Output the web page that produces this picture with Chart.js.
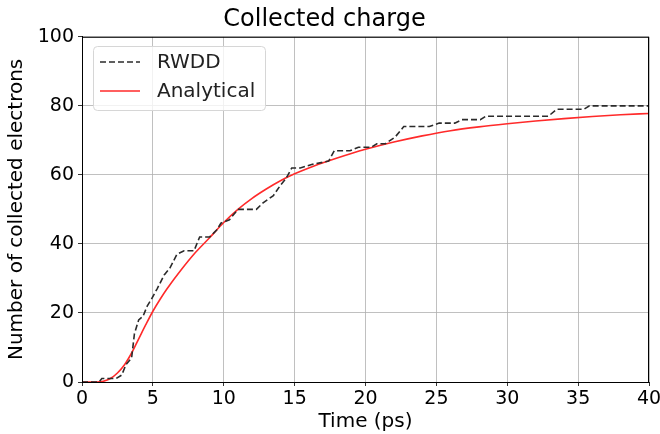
<!DOCTYPE html>
<html>
<head>
<meta charset="utf-8">
<script src="https://cdn.jsdelivr.net/npm/chart.js@4/dist/chart.umd.min.js"></script>
<style>
  html, body { margin: 0; padding: 0; background: #fff; }
  #chart { display: block; }
</style>
</head>
<body>
<canvas id="chart" width="660" height="434"></canvas>
<script>
// RWDD (random walk) – collected electrons vs time
const rwddTime = [0, 1.2, 1.4, 2.4, 2.8, 3.1, 3.5, 3.7, 4.0, 4.3, 4.6, 4.9, 5.3, 5.8, 6.2, 6.7, 7.2, 7.9, 8.3, 9.0, 9.5, 9.8, 10.4, 11.0, 12.3, 12.8, 13.5, 14.0, 14.4, 14.8, 15.4, 16.2, 17.4, 17.8, 18.9, 19.5, 20.4, 20.8, 21.4, 22.1, 22.7, 24.5, 25.2, 26.3, 26.8, 28.1, 28.5, 32.9, 33.5, 35.4, 35.8, 40];
const rwddCount = [0, 0, 1, 1, 2, 5, 7, 14, 18, 19, 22, 24, 27, 31, 33, 37, 38, 38, 42, 42, 44, 46, 47, 50, 50, 52, 54, 57, 59, 62, 62, 63, 64, 67, 67, 68, 68, 69, 69, 71, 74, 74, 75, 75, 76, 76, 77, 77, 79, 79, 80, 80];

// Analytical curve
const anaTime = [0, 1, 1.5, 2, 2.5, 3, 3.5, 4, 4.5, 5, 5.5, 6, 7, 8, 9, 10, 11, 12, 13, 14, 15, 16, 17, 18, 19, 20, 22, 24, 26, 28, 30, 32, 34, 36, 38, 40];
const anaCount = [0, 0, 0.2, 1.0, 2.6, 5.0, 8.4, 12.5, 16.6, 20.5, 23.9, 27.0, 32.5, 37.5, 41.8, 46.2, 50.0, 53.2, 55.9, 58.3, 60.3, 62.0, 63.5, 64.9, 66.2, 67.4, 69.5, 71.3, 72.8, 73.9, 74.8, 75.6, 76.3, 76.9, 77.4, 77.8];

const xTicks = [0, 5, 10, 15, 20, 25, 30, 35, 40];
const yTicks = [0, 20, 40, 60, 80, 100];

const FONT = "'DejaVu Sans', sans-serif";

function toPoints(xs, ys) {
    return xs.map((x, i) => ({ x: x, y: ys[i] }));
}

// frame on all four sides + matplotlib-like legend inside the axes
const framePlugin = {
    id: "frame",
    afterDraw(chart) {
        const ctx = chart.ctx;
        const a = chart.chartArea;
        ctx.save();
        ctx.strokeStyle = "#000";
        ctx.lineWidth = 1;
        ctx.strokeRect(a.left + 0.5, a.top + 0.5, a.right - a.left - 1, a.bottom - a.top);

        // legend box
        const bx = 93, by = 46, bw = 172, bh = 64;
        ctx.fillStyle = "rgba(255,255,255,0.8)";
        ctx.strokeStyle = "#d6d6d6";
        ctx.lineWidth = 1;
        ctx.beginPath();
        ctx.roundRect(bx + 0.5, by + 0.5, bw, bh, 4);
        ctx.fill();
        ctx.stroke();

        ctx.font = "20px " + FONT;
        ctx.textBaseline = "middle";
        chart.data.datasets.forEach((ds, i) => {
            const ly = 62 + i * 29;
            ctx.strokeStyle = ds.borderColor;
            ctx.lineWidth = ds.borderWidth;
            ctx.setLineDash(ds.borderDash || []);
            ctx.beginPath();
            ctx.moveTo(100, ly);
            ctx.lineTo(140, ly);
            ctx.stroke();
            ctx.setLineDash([]);
            ctx.fillStyle = "#222";
            ctx.fillText(ds.label, 157, ly + 1);
        });
        ctx.restore();
    }
};

const ctx = document.getElementById("chart").getContext("2d");

new Chart(ctx, {
    type: "line",
    data: {
        datasets: [{
            label: "RWDD",
            data: toPoints(rwddTime, rwddCount),
            borderColor: "#2b2b2b",
            borderWidth: 1.6,
            borderDash: [6, 3],
            pointRadius: 0,
            tension: 0,
            fill: false
        }, {
            label: "Analytical",
            data: toPoints(anaTime, anaCount),
            borderColor: "#ff2a2a",
            borderWidth: 1.6,
            pointRadius: 0,
            cubicInterpolationMode: "monotone",
            fill: false
        }]
    },
    options: {
        responsive: false,
        animation: false,
        layout: {
            padding: { left: 0, right: 11, top: 0, bottom: 0 }
        },
        plugins: {
            legend: { display: false },
            tooltip: { enabled: false },
            title: {
                display: true,
                text: "Collected charge",
                color: "#000",
                font: { family: FONT, size: 24, weight: "normal" },
                padding: { top: 5, bottom: 3 }
            }
        },
        scales: {
            x: {
                type: "linear",
                min: 0,
                max: 40,
                afterFit: function (scale) {
                    scale.height = 52;
                    scale.paddingLeft = 0;
                    scale.paddingRight = 0;
                },
                afterBuildTicks: function (scale) {
                    scale.ticks = xTicks.map(v => ({ value: v }));
                },
                ticks: {
                    color: "#000",
                    font: { family: FONT, size: 19 },
                    padding: 2,
                    maxRotation: 0
                },
                grid: {
                    color: "#b0b0b0",
                    lineWidth: 0.8,
                    tickLength: 4,
                    tickColor: "#000"
                },
                border: { color: "#000", width: 1 },
                title: {
                    display: true,
                    text: "Time (ps)",
                    color: "#000",
                    font: { family: FONT, size: 20 },
                    padding: { top: 0, bottom: 0 }
                }
            },
            y: {
                type: "linear",
                min: 0,
                max: 100,
                afterFit: function (scale) {
                    scale.width = 82;
                    scale.paddingTop = 0;
                    scale.paddingBottom = 0;
                },
                afterBuildTicks: function (scale) {
                    scale.ticks = yTicks.map(v => ({ value: v }));
                },
                ticks: {
                    color: "#000",
                    font: { family: FONT, size: 19 },
                    padding: 4
                },
                grid: {
                    color: "#b0b0b0",
                    lineWidth: 0.8,
                    tickLength: 4,
                    tickColor: "#000"
                },
                border: { color: "#000", width: 1 },
                title: {
                    display: true,
                    text: "Number of collected electrons",
                    color: "#000",
                    font: { family: FONT, size: 20 },
                    padding: { top: 5, bottom: 0 }
                }
            }
        }
    },
    plugins: [framePlugin]
});
</script>
</body>
</html>
